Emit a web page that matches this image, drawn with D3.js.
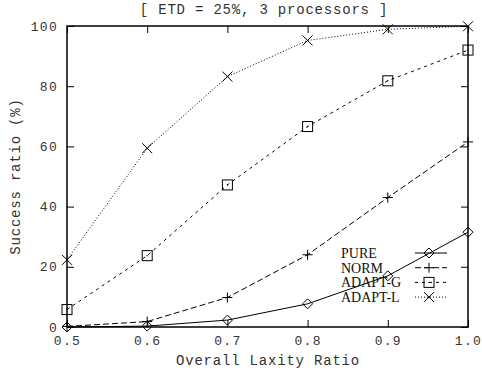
<!DOCTYPE html>
<meta charset="utf-8">
<script src="https://d3js.org/d3.v7.min.js"></script>
<style>
body { margin: 0; background: #fff; }
svg text.mono, .tick text { font-family: "Liberation Mono", "Courier New", monospace; font-size: 14px; letter-spacing: 0.8px; fill: #333; }
.tick text { font-size: 13px; letter-spacing: 1.3px; }
.key { font-family: "Liberation Serif", serif; font-size: 14px; fill: #111; }
</style>
<body>
<div id="chart"></div>
<script>
// laxity ratios on the x axis
var laxity = [0.5, 0.6, 0.7, 0.8, 0.9, 1.0];
var xTicks = ["0.5", "0.6", "0.7", "0.8", "0.9", "1.0"];
var yTicks = [0, 20, 40, 60, 80, 100];

// success ratio (%) per scheme
var pure   = [0, 0.3, 2.3, 7.7, 17.0, 31.5];
var norm   = [0.2, 1.8, 9.8, 24.0, 43.0, 61.5];
var adaptG = [5.8, 23.7, 47.2, 66.6, 81.8, 92.0];
var adaptL = [22.3, 59.4, 83.2, 95.2, 98.9, 99.9];

var names = ["PURE", "NORM", "ADAPT-G", "ADAPT-L"];
var series = [pure, norm, adaptG, adaptL];
var dashes = [null, "6,3", "3,4", "1,2"];
var marks = ["diamond", "plus", "square", "cross"];

var W = 482, H = 370;
var margin = {top: 26, right: 14, bottom: 43, left: 67};
var width = W - margin.left - margin.right,
    height = H - margin.top - margin.bottom;

var svg = d3.select("#chart").append("svg")
  .attr("width", W).attr("height", H);
var g = svg.append("g")
  .attr("transform", "translate(" + margin.left + "," + margin.top + ")");

var x = d3.scaleLinear().domain([0.5, 1.0]).range([0, width]);
var y = d3.scaleLinear().domain([0, 100]).range([height, 0]);

// axes with inward ticks, mirrored on top and right
g.append("g").attr("transform", "translate(0," + height + ")")
  .call(d3.axisBottom(x).tickValues(laxity).tickSize(-7).tickPadding(9)
    .tickFormat(function(d, i) { return xTicks[i]; }));
g.append("g")
  .call(d3.axisLeft(y).tickValues(yTicks).tickSize(-7).tickPadding(9));
g.append("g").call(d3.axisTop(x).tickValues(laxity).tickSize(-7).tickFormat(""));
g.append("g").attr("transform", "translate(" + width + ",0)")
  .call(d3.axisRight(y).tickValues(yTicks).tickSize(-7).tickFormat(""));
g.selectAll(".domain").remove();
g.selectAll(".tick line").attr("stroke", "#000");
g.selectAll(".tick text").attr("font-family", null).attr("font-size", null);

g.append("rect").attr("width", width).attr("height", height)
  .attr("fill", "none").attr("stroke", "#000").attr("stroke-width", 1.5);

function drawMark(sel, type) {
  var s = 5;
  if (type == "diamond") {
    sel.append("path").attr("d", "M0," + (-s) + "L" + s + ",0L0," + s + "L" + (-s) + ",0Z")
      .attr("fill", "none").attr("stroke", "#000");
  } else if (type == "plus") {
    sel.append("path").attr("d", "M" + (-s) + ",0H" + s + "M0," + (-s) + "V" + s)
      .attr("stroke", "#000");
  } else if (type == "square") {
    sel.append("rect").attr("x", -s).attr("y", -s).attr("width", 2 * s).attr("height", 2 * s)
      .attr("fill", "none").attr("stroke", "#000");
    sel.append("circle").attr("r", 0.7).attr("fill", "#000");
  } else {
    sel.append("path").attr("d", "M" + (-s) + "," + (-s) + "L" + s + "," + s + "M" + (-s) + "," + s + "L" + s + "," + (-s))
      .attr("stroke", "#000");
  }
}

var line = d3.line()
  .x(function(d, i) { return x(laxity[i]); })
  .y(function(d) { return y(d); });

series.forEach(function(vals, k) {
  g.append("path").datum(vals)
    .attr("d", line)
    .attr("fill", "none")
    .attr("stroke", "#000")
    .attr("stroke-width", 1)
    .attr("stroke-dasharray", dashes[k]);
  vals.forEach(function(v, i) {
    var m = g.append("g").attr("transform", "translate(" + x(laxity[i]) + "," + y(v) + ")");
    drawMark(m, marks[k]);
  });
});

// legend
var key = g.append("g").attr("transform", "translate(274,227)");
names.forEach(function(n, k) {
  var row = key.append("g").attr("transform", "translate(0," + (k * 14.7) + ")");
  row.append("text").attr("class", "key").attr("x", 0).attr("y", 5).text(n);
  row.append("line").attr("x1", 74).attr("x2", 106).attr("y1", 0).attr("y2", 0)
    .attr("stroke", "#000").attr("stroke-dasharray", dashes[k]);
  drawMark(row.append("g").attr("transform", "translate(88,0)"), marks[k]);
});

// titles
svg.append("text").attr("class", "mono").attr("x", 264).attr("y", 14)
  .attr("text-anchor", "middle").text("[ ETD = 25%, 3 processors ]");
svg.append("text").attr("class", "mono").attr("x", 268).attr("y", 365)
  .attr("text-anchor", "middle").text("Overall Laxity Ratio");
svg.append("text").attr("class", "mono")
  .attr("transform", "translate(20," + (margin.top + height / 2) + ") rotate(-90)")
  .attr("text-anchor", "middle").text("Success ratio (%)");
</script>
</body>
